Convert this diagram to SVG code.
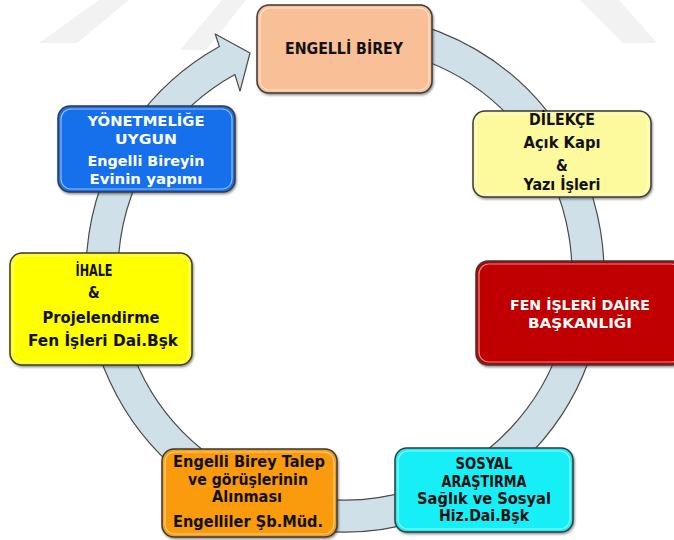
<svg xmlns="http://www.w3.org/2000/svg" width="674" height="540" viewBox="0 0 674 540">
  <defs>
    <style>
      .box { stroke: #3a3a3a; stroke-width: 1.5; filter: url(#shadow); }
      .gloss { fill: none; stroke: #ffffff; stroke-opacity: 0.55; stroke-width: 1.2; }
      .t { font-family: "DejaVu Sans Condensed", "DejaVu Sans", "Liberation Sans", sans-serif; font-weight: bold; font-size: 15px; text-anchor: middle; fill: #111111; }
      .s { font-size: 14px; }
      .w { fill: #ffffff; }
      .ring { fill: #cfe0e8; stroke: #4a4a4a; stroke-width: 1.2; stroke-linejoin: round; }
      .wm { fill: #f2f2f2; }
    </style>
    <filter id="shadow" x="-10%" y="-10%" width="120%" height="125%">
      <feDropShadow dx="1" dy="1.5" stdDeviation="1.2" flood-color="#000000" flood-opacity="0.45"/>
    </filter>
  </defs>

  <rect width="674" height="540" fill="#ffffff"/>

  <!-- faint background watermark -->
  <g id="watermark">
    <polygon class="wm" points="39,43 77,43 129,0 99,0"/>
    <polygon class="wm" points="180,50 206,50 246,0 222,0"/>
    <polygon class="wm" points="580,0 619,0 657,43 623,43"/>
  </g>

  <!-- circular arrow connector -->
  <g id="connectors">
    <path class="ring" d="M322.4,15 A259,259 0 1 1 219.4,46.5 L215.2,34 L250,53 L240,91.1 L234.9,74.5 A227,227 0 1 0 325.2,46.9 Z"/>
  </g>

  <g id="node-engelli-birey">
    <rect class="box" x="257" y="5" width="175" height="88" rx="12" fill="#f9bf96"/>
    <rect class="gloss" x="260" y="8" width="169" height="82" rx="10"/>
    <text class="t" x="344" y="54" style="font-size:16px" textLength="118" lengthAdjust="spacingAndGlyphs">ENGELLİ BİREY</text>
  </g>

  <g id="node-dilekce">
    <rect class="box" x="473" y="111" width="178" height="86" rx="12" fill="#fdfa9e"/>
    <rect class="gloss" x="476" y="114" width="172" height="80" rx="10"/>
    <text class="t" x="562" y="125" textLength="66" lengthAdjust="spacingAndGlyphs">DİLEKÇE</text>
    <text class="t" x="562" y="148" textLength="77" lengthAdjust="spacingAndGlyphs">Açık Kapı</text>
    <text class="t" x="562" y="171">&amp;</text>
    <text class="t" x="562" y="190" textLength="77" lengthAdjust="spacingAndGlyphs">Yazı İşleri</text>
  </g>

  <g id="node-fen-isleri">
    <rect class="box" x="476" y="261" width="208" height="104" rx="12" fill="#c00000"/>
    <rect class="gloss" x="479" y="264" width="202" height="98" rx="10"/>
    <text class="t s w" x="580" y="310" textLength="140" lengthAdjust="spacingAndGlyphs">FEN İŞLERİ DAİRE</text>
    <text class="t s w" x="580" y="328" textLength="104" lengthAdjust="spacingAndGlyphs">BAŞKANLIĞI</text>
  </g>

  <g id="node-sosyal-arastirma">
    <rect class="box" x="395" y="448" width="178" height="84" rx="12" fill="#12eff5"/>
    <rect class="gloss" x="398" y="451" width="172" height="78" rx="10"/>
    <text class="t" x="484" y="469" textLength="57" lengthAdjust="spacingAndGlyphs">SOSYAL</text>
    <text class="t" x="484" y="487" textLength="85" lengthAdjust="spacingAndGlyphs">ARAŞTIRMA</text>
    <text class="t" x="484" y="504" textLength="134" lengthAdjust="spacingAndGlyphs">Sağlık ve Sosyal</text>
    <text class="t" x="484" y="521" textLength="90" lengthAdjust="spacingAndGlyphs">Hiz.Dai.Bşk</text>
  </g>

  <g id="node-talep">
    <rect class="box" x="162" y="449" width="175" height="88" rx="12" fill="#fa9a0c"/>
    <rect class="gloss" x="165" y="452" width="169" height="82" rx="10"/>
    <text class="t" x="249" y="467" textLength="152" lengthAdjust="spacingAndGlyphs">Engelli Birey Talep</text>
    <text class="t" x="248" y="485" textLength="120" lengthAdjust="spacingAndGlyphs">ve görüşlerinin</text>
    <text class="t" x="247" y="502" textLength="70" lengthAdjust="spacingAndGlyphs">Alınması</text>
    <text class="t" x="248" y="527" textLength="150" lengthAdjust="spacingAndGlyphs">Engelliler Şb.Müd.</text>
  </g>

  <g id="node-ihale">
    <rect class="box" x="10" y="253" width="182" height="112" rx="12" fill="#ffff00"/>
    <rect class="gloss" x="13" y="256" width="176" height="106" rx="10"/>
    <text class="t" x="94" y="276" textLength="37" lengthAdjust="spacingAndGlyphs">İHALE</text>
    <text class="t" x="94" y="298">&amp;</text>
    <text class="t" x="101" y="323" textLength="117" lengthAdjust="spacingAndGlyphs">Projelendirme</text>
    <text class="t" x="103" y="346" textLength="150" lengthAdjust="spacingAndGlyphs">Fen İşleri Dai.Bşk</text>
  </g>

  <g id="node-yonetmelige">
    <rect class="box" x="58" y="106" width="177" height="86" rx="12" fill="#1270ec"/>
    <rect class="gloss" x="61" y="109" width="171" height="80" rx="10"/>
    <text class="t s w" x="146" y="126" textLength="117" lengthAdjust="spacingAndGlyphs">YÖNETMELİĞE</text>
    <text class="t s w" x="146" y="144" textLength="62" lengthAdjust="spacingAndGlyphs">UYGUN</text>
    <text class="t s w" x="146" y="166" textLength="117" lengthAdjust="spacingAndGlyphs">Engelli Bireyin</text>
    <text class="t s w" x="146" y="184" textLength="113" lengthAdjust="spacingAndGlyphs">Evinin yapımı</text>
  </g>
</svg>
